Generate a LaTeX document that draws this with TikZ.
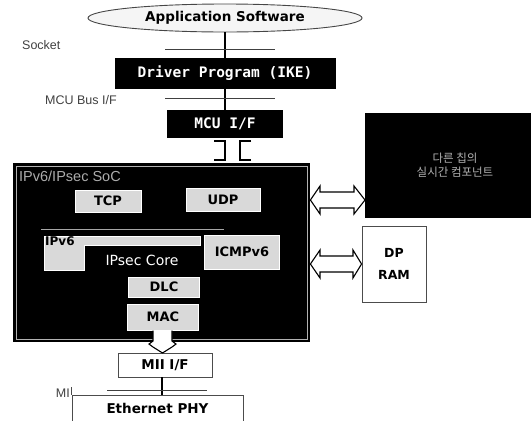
\documentclass[tikz,border=0pt]{standalone}
\usepackage{fontspec}
\setmainfont{DejaVu Sans}
\newfontfamily\labfont{Liberation Sans}
\newfontfamily\krfont{Noto Sans CJK KR}
\newfontfamily\monofont{DejaVu Sans Mono}
\usetikzlibrary{shapes.geometric}
\begin{document}
\begin{tikzpicture}[x=1pt,y=-1pt,
  blk/.style={draw=black, fill=black, text=white, font=\monofont\bfseries\fontsize{14.5}{16}\selectfont, inner sep=0pt},
  gbox/.style={draw=white, line width=1pt, fill=gray!30, font=\bfseries\fontsize{13}{15}\selectfont, inner sep=0pt},
  wbox/.style={draw=gray!60!black, line width=0.9pt, fill=white, font=\bfseries\fontsize{13.5}{15}\selectfont, inner sep=0pt},
  lab/.style={font=\labfont\fontsize{12.5}{14}\selectfont, text=black!75, inner sep=0pt},
  wire/.style={line width=1.5pt},
  thin/.style={line width=0.9pt, gray!50!black},
  hollow/.style={draw=black, fill=white, line width=1.1pt, line join=miter},
]
\useasboundingbox (0,0) rectangle (531,421);
% top stack
\node[ellipse, draw=gray!55!black, line width=0.9pt, fill=gray!8, minimum width=274pt, minimum height=28pt, inner sep=0pt, font=\bfseries\fontsize{13.5}{15}\selectfont] (app) at (225,18) {Application Software};
\node[blk, minimum width=220pt, minimum height=30pt] (drv) at (225,73) {Driver Program (IKE)};
\node[blk, minimum width=115pt, minimum height=27pt] (mcu) at (225,124) {MCU I/F};
\draw[wire] (app.south) -- (drv.north);
\draw[wire] (drv.south) -- (mcu.north);
\coordinate (sk1) at (165,49); \coordinate (sk2) at (275,49);
\draw[thin] (sk1) -- (sk2);
\node[lab, anchor=west] (socket) at (22,45) {Socket};
\coordinate (mb1) at (165,98); \coordinate (mb2) at (275,98);
\draw[thin] (mb1) -- (mb2);
\node[lab, anchor=west] (mbus) at (45,100) {MCU Bus I/F};
% bracket connector MCU -> SoC
\draw[line width=1.6pt] (214,141) -- (225,141) -- (225,160) -- (214,160);
\draw[line width=1.6pt] (251,141) -- (240,141) -- (240,160) -- (251,160);
% right external box
\node[fill=black, minimum width=166pt, minimum height=105pt, anchor=north west, inner sep=0pt] (ext) at (365,113) {};
\node[text=gray!60, font=\krfont\fontsize{11.5}{14}\selectfont, align=center] (extt) at (455,165) {다른 칩의\\실시간 컴포넌트};
% SoC
\node[fill=black, minimum width=297pt, minimum height=179pt, anchor=north west, inner sep=0pt] (soc) at (13,163) {};
\draw[gray!60, line width=0.6pt] ([shift={(3,-3)}]soc.south west) rectangle ([shift={(-3,3)}]soc.north east);
\node[anchor=west, text=gray!65, font=\labfont\fontsize{14.5}{16}\selectfont, inner sep=0pt] (hdr) at (19,176) {IPv6/IPsec SoC};
\node[gbox, minimum width=66pt, minimum height=22pt] (tcp) at (108,201) {TCP};
\node[gbox, minimum width=74pt, minimum height=23pt] (udp) at (223,200) {UDP};
\coordinate (hl1) at (41,229); \coordinate (hl2) at (224,229);
\draw[gray!70, line width=0.8pt] (hl1) -- (hl2);
\draw[draw=white, line width=1pt, fill=gray!30] (44,236) -- (200,236) -- (200,245) -- (84,245) -- (84,270) -- (44,270) -- cycle;
\node[anchor=north west, font=\bfseries\fontsize{12}{14}\selectfont, inner sep=0pt] (ipv6) at (45,236) {IPv6};
\node[text=white, font=\fontsize{14}{16}\selectfont, inner sep=0pt] (ipsec) at (142,260) {IPsec Core};
\node[gbox, minimum width=75pt, minimum height=34pt] (icmp) at (242,252) {ICMPv6};
\node[gbox, minimum width=71pt, minimum height=20pt] (dlc) at (164,287) {DLC};
\node[gbox, minimum width=71pt, minimum height=26pt] (mac) at (163,317) {MAC};
% bottom
\node[wbox, minimum width=94pt, minimum height=24pt] (mii) at (165,365) {MII I/F};
\node[wbox, minimum width=171pt, minimum height=26pt] (eth) at (157.5,408) {Ethernet PHY};
\draw[hollow] (mac.south -| 153,0) -- (153,341) -- (149,344) -- (153,347) -- (162.5,353) -- (172,347) -- (176,344) -- (172,341) -- (mac.south -| 172,0);
\draw[wire] (mii.south -| 162,0) -- (eth.north -| 162,0);
\coordinate (mi1) at (107,390); \coordinate (mi2) at (207,390);
\draw[thin] (mi1) -- (mi2);
\draw[gray!60!black, line width=0.9pt] (eth.north west) -- ++(0,-8);
\node[lab, anchor=east] (mil) at (70,393) {MI};
% DP RAM
\node[wbox, minimum width=64pt, minimum height=76pt, align=center, font=\bfseries\fontsize{12.5}{22}\selectfont] (dp) at (394,264) {DP\\RAM};
% hollow double arrows
\draw[hollow] (soc.east |- 0,200) -- (320,186) -- (320,192) -- (354,192) -- (354,186) -- (ext.west |- 0,200) -- (354,214) -- (354,208) -- (320,208) -- (320,214) -- cycle;
\draw[hollow] (soc.east |- 0,264) -- (320,250) -- (320,256) -- (353,256) -- (353,250) -- (dp.west |- 0,264) -- (353,278) -- (353,272) -- (320,272) -- (320,278) -- cycle;
\end{tikzpicture}
\end{document}
